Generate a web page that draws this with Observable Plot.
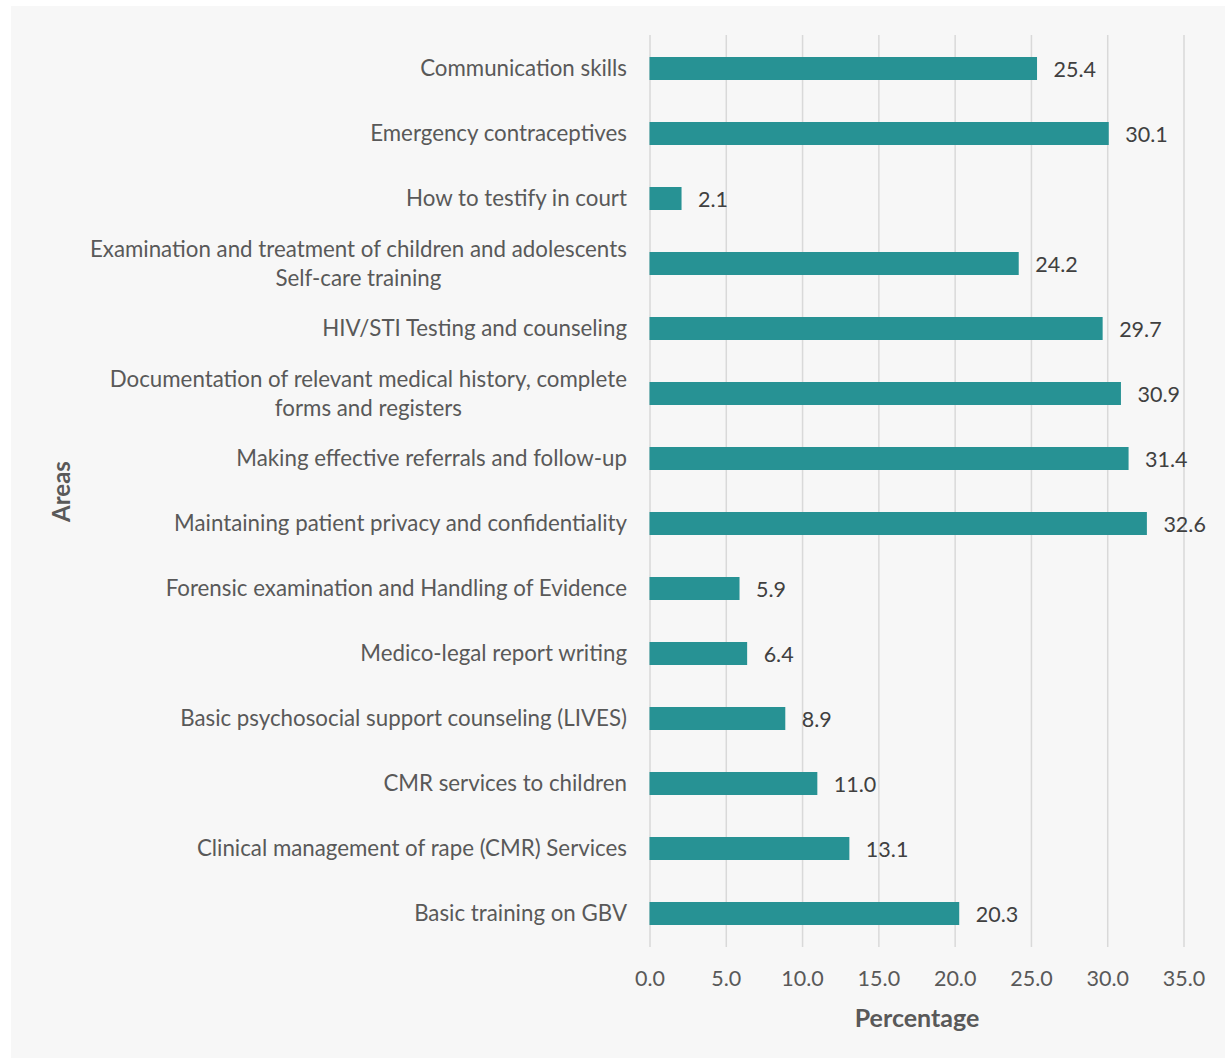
<!DOCTYPE html>
<html><head><meta charset="utf-8">
<script src="https://cdn.jsdelivr.net/npm/d3@7"></script>
<script src="https://cdn.jsdelivr.net/npm/@observablehq/plot@0.6"></script>
<style>
body{margin:0;background:#fff;}
#panel{position:absolute;left:11px;top:6px;width:1214px;height:1052px;background:#f7f7f7;}
</style></head><body><div id="panel"></div>
<script>
const areas = [
  "Communication skills",
  "Emergency contraceptives",
  "How to testify in court",
  "Examination and treatment of children and adolescents\nSelf-care training",
  "HIV/STI Testing and counseling",
  "Documentation of relevant medical history, complete\nforms and registers",
  "Making effective referrals and follow-up",
  "Maintaining patient privacy and confidentiality",
  "Forensic examination and Handling of Evidence",
  "Medico-legal report writing",
  "Basic psychosocial support counseling (LIVES)",
  "CMR services to children",
  "Clinical management of rape (CMR) Services",
  "Basic training on GBV"
];
const percentages = [25.4, 30.1, 2.1, 24.2, 29.7, 30.9, 31.4, 32.6, 5.9, 6.4, 8.9, 11.0, 13.1, 20.3];
const xTicks = [0, 5, 10, 15, 20, 25, 30, 35];

const data = areas.map((a, i) => ({area: a, pct: percentages[i]}));
const FONT = "Lato, 'Open Sans', sans-serif";

const chart = Plot.plot({
  width: 1214, height: 1052,
  marginLeft: 638.5, marginRight: 41.5, marginTop: 29, marginBottom: 111,
  style: {background: "transparent", fontFamily: FONT, fontSize: "20px", color: "#595959"},
  x: {domain: [0, 35], ticks: xTicks, tickFormat: d3.format(".1f"), label: null},
  y: {domain: areas, paddingInner: 0.645, paddingOuter: 0.3225, label: null},
  marks: [
    Plot.gridX(xTicks, {stroke: "#d9d9d9", strokeOpacity: 1, strokeWidth: 1.5}),
    Plot.barX(data, {x: "pct", y: "area", fill: "#279294"}),
    Plot.text(data, {x: "pct", y: "area", text: d => d.pct.toFixed(1), textAnchor: "start", dx: 16, dy: 1, fill: "#404040", fontSize: 21.5}),
    Plot.axisX(xTicks, {tickSize: 0, tickPadding: 23, fontSize: 21.5, fill: "#595959", label: null, tickFormat: d3.format(".1f")}),
    Plot.axisY({tickSize: 0, tickPadding: 23, fontSize: 22.3, fill: "#595959", label: null, lineHeight: 1.3, dy: -2}),
    Plot.text(["Percentage"], {frameAnchor: "bottom", lineAnchor: "middle", dy: 71, fontSize: 25, fontWeight: "bold", fill: "#595959"}),
    Plot.text(["Areas"], {frameAnchor: "left", textAnchor: "middle", lineAnchor: "middle", rotate: -90, dx: -587.5, fontSize: 24, fontWeight: "bold", fill: "#595959"})
  ]
});
document.getElementById("panel").appendChild(chart);

// center multi-line y labels within their block (right-aligned block)
d3.select(chart).selectAll('g[aria-label="y-axis tick label"] text').each(function() {
  const tspans = this.querySelectorAll("tspan");
  if (tspans.length > 1) {
    const w = this.getBBox().width;
    this.setAttribute("text-anchor", "middle");
    const t = this.getAttribute("transform") || "";
    this.setAttribute("transform", t + ` translate(${-w / 2},0)`);
  }
});
</script></body></html>
